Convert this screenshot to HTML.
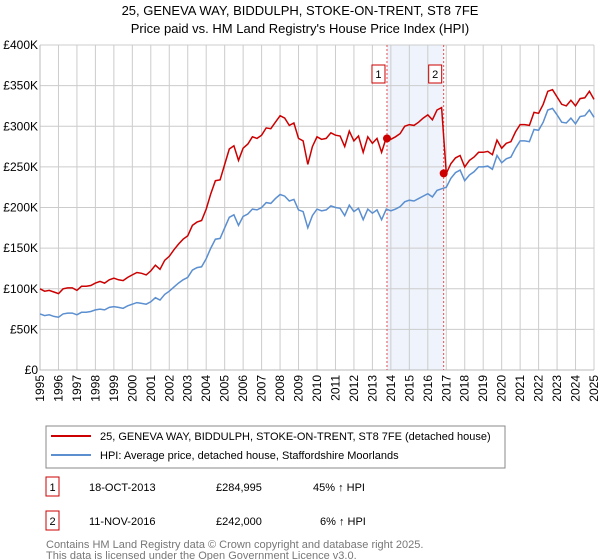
<!DOCTYPE html>
<html><head><meta charset="utf-8"><style>
body{margin:0;background:#fff;font-family:"Liberation Sans","DejaVu Sans",sans-serif;}
svg{display:block}
</style></head><body>
<svg id="c" width="600" height="560" xmlns="http://www.w3.org/2000/svg">
<text x="300" y="15" text-anchor="middle" font-size="13">25, GENEVA WAY, BIDDULPH, STOKE-ON-TRENT, ST8 7FE</text>
<text x="300" y="33" text-anchor="middle" font-size="13">Price paid vs. HM Land Registry's House Price Index (HPI)</text>
<g id="plot"></g>
<rect x="46" y="426" width="459" height="42" fill="#fff" stroke="#888"/>
<line x1="51" y1="436" x2="91" y2="436" stroke="#cc0000" stroke-width="2"/>
<text x="100" y="440" font-size="11">25, GENEVA WAY, BIDDULPH, STOKE-ON-TRENT, ST8 7FE (detached house)</text>
<line x1="51" y1="455" x2="91" y2="455" stroke="#5b8fd0" stroke-width="2"/>
<text x="100" y="459" font-size="11">HPI: Average price, detached house, Staffordshire Moorlands</text>
<g font-size="11">
<rect x="46" y="477" width="13" height="19" fill="#fff" stroke="#cc0000"/>
<text x="52.5" y="491" text-anchor="middle">1</text>
<text x="89" y="491">18-OCT-2013</text>
<text x="216" y="491">£284,995</text>
<text x="313" y="491">45% ↑ HPI</text>
<rect x="46" y="511" width="13" height="19" fill="#fff" stroke="#cc0000"/>
<text x="52.5" y="525" text-anchor="middle">2</text>
<text x="89" y="525">11-NOV-2016</text>
<text x="216" y="525">£242,000</text>
<text x="320" y="525">6% ↑ HPI</text>
</g>
<text x="46" y="548" font-size="11" fill="#777">Contains HM Land Registry data © Crown copyright and database right 2025.</text>
<text x="46" y="559" font-size="11" fill="#777">This data is licensed under the Open Government Licence v3.0.</text>
</svg>
<script>
const hpiValues=[69,67,68,66,65,69,70,70,68,71,71,72,74,75,74,77,78,77,76,79,81,83,82,81,84,89,86,93,97,102,107,111,114,123,126,127,137,150,161,162,175,188,191,178,189,192,198,197,200,206,205,211,216,214,208,210,197,195,175,190,198,196,197,202,200,199,190,203,195,199,185,198,193,197,185,198,196,198,201,207,209,208,211,214,217,213,221,223,225,236,243,246,233,240,244,250,250,251,247,264,255,260,262,273,282,282,281,296,295,305,320,322,314,305,304,310,303,312,313,320,311];
const priceValues=[100,97,98,96,94,100,101,101,98,103,103,104,107,109,107,111,113,111,110,114,117,120,119,117,122,129,124,135,140,148,155,161,165,178,182,184,198,217,233,234,253,272,276,258,273,278,287,285,289,298,297,305,313,310,301,304,285,282,253,275,287,284,285,292,289,288,275,294,282,288,268,287,279,285,268,286,284,287,291,300,302,301,305,310,314,308,320,323,242,254,261,264,250,258,262,268,268,269,265,283,273,279,281,293,302,302,301,317,316,327,343,345,336,327,325,332,325,334,335,343,333];
const startYear=1995, stepYear=0.25;
const yTicks=[0,50,100,150,200,250,300,350,400];
const yTickLabels=["£0","£50K","£100K","£150K","£200K","£250K","£300K","£350K","£400K"];
const xYears=[1995,1996,1997,1998,1999,2000,2001,2002,2003,2004,2005,2006,2007,2008,2009,2010,2011,2012,2013,2014,2015,2016,2017,2018,2019,2020,2021,2022,2023,2024,2025];
const saleDates=[2013.79,2016.86];
const salePrices=[284.995,242];
const saleLabels=["1","2"];

const NS="http://www.w3.org/2000/svg";
const g=document.getElementById('plot');
const X0=40,X1=594,Y0=370,Y1=45;
const xs=y=>X0+(y-1995)/30*(X1-X0);
const ys=v=>Y0-v/400*(Y0-Y1);
function mk(t,a){const e=document.createElementNS(NS,t);for(const k in a)e.setAttribute(k,a[k]);g.appendChild(e);return e;}
const bg=mk('rect',{x:X0,y:Y1,width:X1-X0,height:Y0-Y1,fill:'#fff'});


const sh=mk('rect',{x:xs(saleDates[0]),y:Y1,width:xs(saleDates[1])-xs(saleDates[0]),height:Y0-Y1,fill:'#eef3fc'});


xYears.forEach(yr=>{
 const l=mk('line',{x1:xs(yr),x2:xs(yr),y1:Y1,y2:Y0,stroke:'#cccccc'});
 
 
 const t=mk('text',{x:0,y:0,'font-size':12,'text-anchor':'end',transform:`translate(${xs(yr)+4},${Y0+5}) rotate(-90)`});
 t.textContent=yr;
 
 
});
yTicks.forEach((v,i)=>{
 const l=mk('line',{x1:X0,x2:X1,y1:ys(v),y2:ys(v),stroke:'#cccccc'});
 
 
 const t=mk('text',{x:X0-2,y:ys(v)+4,'font-size':12,'text-anchor':'end'});
 t.textContent=yTickLabels[i];
 
 
});
const ax=mk('path',{d:`M${X0},${Y1}V${Y0}H${X1}`,fill:'none',stroke:'#bbb'});


saleDates.forEach((d,i)=>{
 const l=mk('line',{x1:xs(d),x2:xs(d),y1:Y1,y2:Y0,stroke:'#e05050','stroke-dasharray':'2,2'});
 
 
});
function path(vals){return vals.map((v,i)=>(i?'L':'M')+xs(startYear+i*stepYear).toFixed(1)+','+ys(v).toFixed(1)).join('');}
const hp=mk('path',{d:path(hpiValues),fill:'none',stroke:'#5b8fd0','stroke-width':1.5});


const pp=mk('path',{d:path(priceValues),fill:'none',stroke:'#cc0000','stroke-width':1.5});


saleDates.forEach((d,i)=>{
 const c=mk('circle',{cx:xs(d),cy:ys(salePrices[i]),r:4,fill:'#cc0000'});
 
 
 const r=mk('rect',{x:xs(d)-15,y:65,width:13,height:18,fill:'#fff',stroke:'#cc0000'});
 
 
 const t=mk('text',{x:xs(d)-8.5,y:78,'font-size':11,'text-anchor':'middle'});
 t.textContent=saleLabels[i];
 
 
});
</script>
</body></html>
